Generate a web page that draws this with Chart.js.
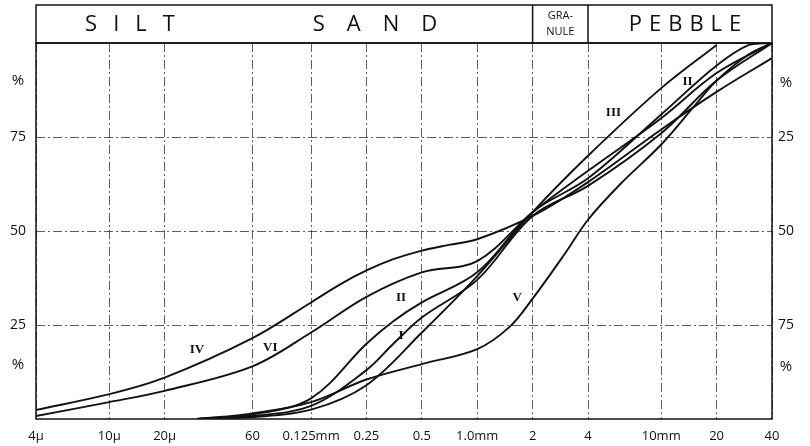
<!DOCTYPE html>
<html>
<head>
<meta charset="utf-8">
<script src="https://cdn.jsdelivr.net/npm/chart.js@4.4.1/dist/chart.umd.min.js"></script>
<style>
  html, body { margin: 0; padding: 0; background: #fff; }
  #wrap { width: 810px; height: 446px; }
</style>
</head>
<body>
<div id="wrap"><canvas id="grading"></canvas></div>
<script>
// grain size (mm) on the x axis, tick labels as printed
const xTicks = [0.004, 0.01, 0.02, 0.06, 0.125, 0.25, 0.5, 1, 2, 4, 10, 20, 40];
const xLabels = ["4µ", "10µ", "20µ", "60", "0.125mm", "0.25", "0.5", "1.0mm", "2", "4", "10mm", "20", "40"];
const yTicks = [25, 50, 75];

// cumulative curves: size (mm) and percent
const sizeI = [0.03, 0.06, 0.125, 0.25, 0.35, 0.5, 1, 2, 4, 10, 20, 40];
const pctI  = [0, 0.8, 3.5, 13, 20, 27, 37, 54, 62, 76, 90, 100];

const sizeII = [0.03, 0.06, 0.125, 0.25, 0.35, 0.5, 1, 2, 4, 10, 20, 30, 40];
const pctII  = [0, 1.2, 5.5, 20, 26, 31, 39, 55, 64, 81, 94, 99.5, 100];

const sizeIII = [0.03, 0.06, 0.125, 0.25, 0.5, 1, 2, 4, 10, 20];
const pctIII  = [0, 0.5, 2.5, 9, 23, 38, 55, 70, 88, 99.5];

const sizeIV = [0.004, 0.01, 0.02, 0.06, 0.125, 0.18, 0.25, 0.35, 0.5, 0.7, 1, 2, 4, 10, 20, 40];
const pctIV  = [2.4, 6.6, 11, 21.5, 31, 35.8, 39.5, 42.5, 44.8, 46.3, 47.8, 54, 63, 77, 87, 96];

const sizeV = [0.03, 0.06, 0.125, 0.25, 0.5, 1, 1.5, 2, 3, 4, 6, 10, 15, 20, 30, 40];
const pctV  = [0, 1.5, 4.5, 10.5, 14.6, 18.6, 24.5, 32, 44, 53, 62.5, 73, 83, 90, 97, 100];

const sizeVI = [0.004, 0.01, 0.02, 0.06, 0.125, 0.25, 0.5, 1, 2, 4, 10, 20, 40];
const pctVI  = [0.8, 4.5, 7.5, 14, 23, 32.5, 39, 42, 55, 66, 80, 92, 100];

// curve labels: text, size (mm), percent
const curveNames = ["IV", "VI", "II", "I", "V", "III", "II"];
const nameSize   = [0.03, 0.075, 0.385, 0.385, 1.65, 5.5, 13.9];
const namePct    = [18.4, 18.9, 32.4, 22.3, 32.2, 81.6, 89.6];

const pts = (xs, ys) => xs.map((x, i) => ({ x: x, y: ys[i] }));
const curve = (label, xs, ys) => ({
  label: label,
  data: pts(xs, ys),
  borderColor: "#111",
  borderWidth: 1.9,
  pointRadius: 0,
  fill: false,
  tension: 0.35
});

const ink = "#111";
const gridDash = [9, 3, 2, 3];

const decor = {
  id: "decor",
  afterDraw(chart) {
    const { ctx, chartArea: a, scales } = chart;
    const x = scales.x, y = scales.y;
    ctx.save();
    // plot frame
    ctx.strokeStyle = ink;
    ctx.lineWidth = 1.5;
    ctx.strokeRect(a.left, a.top, a.right - a.left, a.bottom - a.top);
    // header band
    const hTop = 5;
    ctx.strokeRect(a.left, hTop, a.right - a.left, a.top - hTop);
    const x2 = x.getPixelForValue(2), x4 = x.getPixelForValue(4);
    ctx.beginPath();
    ctx.moveTo(x2, hTop); ctx.lineTo(x2, a.top);
    ctx.moveTo(x4, hTop); ctx.lineTo(x4, a.top);
    ctx.stroke();

    ctx.fillStyle = ink;
    ctx.textBaseline = "middle";
    ctx.textAlign = "center";
    const midH = (hTop + a.top) / 2 + 1;
    const spaced = (txt, cx, sp) => {
      ctx.letterSpacing = sp + "px";
      ctx.fillText(txt, cx + sp / 2, midH);
      ctx.letterSpacing = "0px";
    };
    ctx.font = "22px 'Open Sans', 'DejaVu Sans', sans-serif";
    spaced("SILT", 130, 16);
    spaced("SAND", 375, 22);
    spaced("PEBBLE", 685, 7);
    ctx.font = "11px 'Open Sans', 'DejaVu Sans', sans-serif";
    ctx.fillText("GRA-", (x2 + x4) / 2, 16);
    ctx.fillText("NULE", (x2 + x4) / 2, 32);

    // percent signs on both sides
    ctx.font = "15px 'Open Sans', 'DejaVu Sans', sans-serif";
    ctx.fillText("%", 18, y.getPixelForValue(90));
    ctx.fillText("%", 18, y.getPixelForValue(14.5));
    ctx.fillText("%", 786, y.getPixelForValue(89.5));
    ctx.fillText("%", 786, y.getPixelForValue(14));

    // curve names
    ctx.font = "bold 13px 'Liberation Serif', 'DejaVu Serif', serif";
    curveNames.forEach((t, i) => {
      ctx.fillText(t, x.getPixelForValue(nameSize[i]), y.getPixelForValue(namePct[i]));
    });
    ctx.restore();
  }
};

new Chart(document.getElementById("grading"), {
  type: "line",
  data: {
    datasets: [
      curve("I", sizeI, pctI),
      curve("II", sizeII, pctII),
      curve("III", sizeIII, pctIII),
      curve("IV", sizeIV, pctIV),
      curve("V", sizeV, pctV),
      curve("VI", sizeVI, pctVI)
    ]
  },
  options: {
    responsive: true,
    maintainAspectRatio: false,
    animation: false,
    layout: { padding: { top: 43 } },
    plugins: { legend: { display: false }, tooltip: { enabled: false } },
    scales: {
      x: {
        type: "logarithmic",
        min: 0.004,
        max: 40,
        afterBuildTicks: s => { s.ticks = xTicks.map(v => ({ value: v })); },
        afterFit: s => { s.height = 27; },
        ticks: {
          autoSkip: false,
          maxRotation: 0,
          padding: 9,
          color: ink,
          font: { family: "'Open Sans', 'DejaVu Sans', sans-serif", size: 13 },
          callback: v => xLabels[xTicks.indexOf(v)]
        },
        grid: { color: "#333", lineWidth: 0.8, drawTicks: false },
        border: { display: false, dash: gridDash }
      },
      y: {
        min: 0,
        max: 100,
        afterBuildTicks: s => { s.ticks = yTicks.map(v => ({ value: v })); },
        afterFit: s => { s.width = 36; },
        ticks: {
          padding: 10,
          color: ink,
          font: { family: "'Open Sans', 'DejaVu Sans', sans-serif", size: 14 }
        },
        grid: { color: "#333", lineWidth: 0.8, drawTicks: false },
        border: { display: false, dash: gridDash }
      },
      y2: {
        position: "right",
        reverse: true,
        min: 0,
        max: 100,
        afterBuildTicks: s => { s.ticks = yTicks.map(v => ({ value: v })); },
        afterFit: s => { s.width = 38; },
        ticks: {
          padding: 6,
          color: ink,
          font: { family: "'Open Sans', 'DejaVu Sans', sans-serif", size: 14 }
        },
        grid: { display: false, drawTicks: false },
        border: { display: false }
      }
    }
  },
  plugins: [decor]
});
</script>
</body>
</html>
